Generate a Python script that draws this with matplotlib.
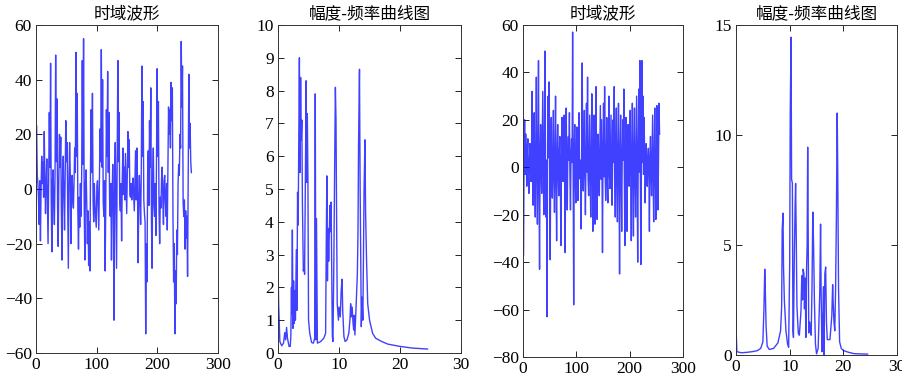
import numpy as np
import matplotlib
matplotlib.use("Agg")
import matplotlib.pyplot as plt

plt.rcParams['font.family'] = ['Liberation Serif', 'DejaVu Serif']
plt.rcParams['axes.unicode_minus'] = True

# titles
title_wave = "时域波形"
title_spec = "幅度-频率曲线图"

# first signal, time domain
wave1 = [23, 5, 2, -4, -13, 3, -19, 0, 12, 2, 10, -3, 21, 4, -9, 2, 11, -5, -20, 6,
         28, 8, 46, -4, -23, 3, 7, -6, -13, 5, 49, 10, 33, -6, -21, 4, 20, 8, 19, -8,
         -26, 5, 12, -3, -15, 6, 25, 10, 17, -5, -29, 4, 17, 6, -20, -2, 5, -4, -7, 3,
         15, 6, 50, 12, 35, -8, -22, -3, -14, 2, -10, 5, 47, 9, 55, -6, -26, 2, 7, -5,
         -20, -8, -28, -12, -30, 10, 29, 6, 35, -4, -12, 2, -6, -10, -14, 1, 3, -6, -15, 5,
         22, 10, 51, 8, 40, -5, -10, 3, -30, -6, 29, 12, 43, 6, 28, -3, -10, 2, -26, -4,
         9, -6, -48, 4, 17, -8, -29, 6, 47, 10, 28, -4, -8, 2, -19, 3, 15, -2, 8, -4,
         13, 2, -9, 5, 21, 8, 18, -2, -3, 2, -4, 1, 4, -2, -8, 3, 14, -4, 15, 2,
         -27, -6, 5, -3, -13, 6, 45, 12, 32, -4, -9, -12, -53, -20, -34, 5, 14, -6, 25, 8,
         37, -10, -29, 4, 15, -6, -10, 2, -17, 10, 44, 12, 32, -8, -20, -3, -7, 4, 8, -4,
         -13, 3, 5, -5, -10, 2, -15, 8, 30, 20, 29, 15, 39, 25, 37, -10, -34, -20, -53, -30,
         -42, -15, -24, 2, 9, 5, 20, 15, 54, 30, 45, -5, -10, -4, -22, -8, -18, -10, -32, 5,
         42, 15, 24, 10, 6]

# first signal, amplitude spectrum vertices
freq1 = [0.0, 0.1, 0.3, 0.6, 0.9, 1.1, 1.25, 1.4, 1.55, 1.8, 2.0, 2.1, 2.2, 2.25, 2.35,
         2.45, 2.55, 2.65, 2.75, 2.85, 3.0, 3.1, 3.2, 3.3, 3.4, 3.5, 3.6, 3.7, 3.8, 3.9,
         4.0, 4.15, 4.3, 4.35, 4.5, 4.6, 4.7, 4.8, 4.9, 5.0, 5.2, 5.5, 5.8, 6.0, 6.1,
         6.2, 6.3, 6.45, 7.0, 7.5, 7.8, 7.9, 8.0, 8.1, 8.2, 8.3, 8.5, 8.6, 8.7, 8.8, 8.9,
         9.0, 9.15, 9.3, 9.4, 9.5, 9.6, 9.7, 9.9, 10.0, 10.2, 10.35, 10.5, 10.6, 10.8,
         11.0, 11.3, 11.6, 11.8, 11.9, 12.0, 12.15, 12.3, 12.4, 12.5, 12.6, 12.8, 13.0,
         13.1, 13.2, 13.35, 13.45, 13.55, 13.65, 13.75, 13.9, 14.0, 14.1, 14.25, 14.35,
         14.5, 14.7, 15.0, 15.5, 16.0, 17.0, 18.0, 20.0, 22.0, 24.5]
amp1 = [2.6, 1.5, 0.35, 0.22, 0.3, 0.62, 0.4, 0.78, 0.45, 0.2, 0.2, 0.5, 2.0, 1.2, 3.75,
        0.75, 2.2, 0.9, 1.9, 1.0, 3.15, 1.3, 4.9, 3.9, 6.45, 9.0, 5.5, 8.4, 6.5, 7.1,
        4.5, 2.5, 2.7, 2.4, 5.7, 8.3, 5.2, 7.3, 5.3, 1.0, 0.6, 0.32, 0.3, 0.45, 7.9,
        0.4, 4.1, 0.3, 0.35, 0.45, 0.6, 3.2, 5.4, 2.2, 3.8, 2.8, 4.5, 3.7, 4.6, 2.5, 0.5,
        0.35, 2.8, 6.1, 8.1, 7.1, 4.1, 1.5, 1.0, 1.4, 1.1, 1.9, 2.25, 1.3, 0.5,
        0.35, 0.4, 0.6, 1.05, 1.5, 1.1, 1.4, 0.9, 0.7, 1.15, 0.55, 1.45, 2.4,
        3.6, 6.4, 8.65, 5.2, 3.0, 0.8, 1.7, 1.0, 2.9, 5.0, 6.5, 4.3,
        2.9, 1.5, 1.0, 0.6, 0.45, 0.35, 0.27, 0.2, 0.15, 0.12]

# second signal, time domain
wave2 = [-37, 5, 20, -3, 14, 2, -8, 6, 12, -4, -11, 3, 10, -2, -6, 8, 32, -5, -16, 4,
         23, -6, -21, 7, 38, -3, -24, 5, 45, -8, -43, 6, 18, -2, -11, 9, 32, -4, -20, 8,
         49, -6, -21, 3, -63, 10, 30, 4, 36, -5, -39, 6, 21, -3, -13, 7, 24, -5, -19, 4,
         30, -6, -31, 5, 18, -2, -12, 6, 13, -4, -33, 3, 21, 7, -6, 5, 22, -3, -36, 4,
         25, -5, -18, 6, 13, 3, 23, -4, -18, 5, 12, 2, 57, -6, -58, 4, 18, -3, -15, 6,
         17, -5, -14, 4, 23, -2, -5, 3, -26, 8, 44, -4, -10, 5, 24, -3, -20, 6, 27, -2,
         38, -5, -12, 4, 22, -6, -21, 5, 31, -3, -27, 4, 22, -6, -24, 5, 34, -4, -22, 3,
         14, -2, -12, 6, 26, -5, 20, 3, -36, 7, 27, -4, 34, -3, -14, 5, 21, -6, -15, 4,
         30, -2, -9, 6, 22, -5, -16, 4, 20, 2, 34, -4, -21, 6, 25, -5, -23, 7, 27, -3,
         -45, 6, 22, -4, -27, 5, 20, 3, 33, -6, -33, 5, 21, -3, -27, 4, 18, -2, -8, 6,
         24, -4, -31, 5, 27, -3, -29, 6, 25, -5, -21, 4, 30, -6, -40, 5, 33, -2, 45, -6,
         -41, 4, 45, 2, 30, -3, 21, 5, -15, -2, 10, -4, -8, 3, 8, -2, -27, 5, 13, -3,
         -12, 4, 22, -6, -23, 5, 25, -4, -22, 3, 26, -5, -18, 2, 27, 14]

# second signal, amplitude spectrum vertices
freq2 = [0.0, 0.05, 0.15, 1.0, 2.0, 3.0, 4.0, 4.6, 5.0, 5.2, 5.35, 5.45, 5.6, 5.8, 6.2,
         7.0, 7.8, 8.3, 8.5, 8.6, 8.75, 8.85, 9.0, 9.3, 9.6, 9.8, 10.0, 10.1, 10.25,
         10.35, 10.5, 10.6, 10.7, 10.85, 11.0, 11.1, 11.2, 11.35, 11.6, 11.8, 12.1,
         12.25, 12.4, 12.5, 12.65, 12.75, 12.9, 13.0, 13.15, 13.25, 13.35, 13.45, 13.55,
         13.7, 13.85, 14.0, 14.15, 14.3, 14.45, 14.6, 14.8, 15.0, 15.3, 15.6, 15.75,
         15.85, 16.0, 16.15, 16.3, 16.4, 16.55, 16.7, 16.85, 17.0, 17.5, 17.85, 18.0,
         18.1, 18.25, 18.4, 18.55, 18.7, 18.85, 18.95, 19.1, 19.3, 19.6, 20.0, 21.0,
         22.0, 23.0, 24.5]
amp2 = [1.8, 0.9, 0.15, 0.1, 0.12, 0.15, 0.2, 0.3, 0.6, 2.1, 3.9, 3.0, 1.3, 0.4, 0.25,
        0.3, 0.55, 1.1, 2.2, 5.7, 6.45, 4.0, 2.5, 1.1, 0.5, 0.35, 4.2, 11.0, 14.45,
        8.0, 7.8, 1.1, 0.8, 4.3, 6.7, 7.8, 5.8, 2.2, 1.0, 0.9, 2.0,
        3.6, 2.5, 3.9, 3.7, 2.1, 3.5, 0.8, 4.0, 5.0, 9.45, 5.3, 1.0,
        1.5, 1.2, 0.9, 3.0, 6.5, 5.0, 2.5, 0.5, 0.05, 0.3, 2.8, 5.95,
        3.0, 0.15, 1.5, 3.1, 0.0, 3.7, 4.0, 1.5, 0.7, 0.7, 1.8, 3.2,
        2.4, 1.5, 1.1, 3.0, 6.3, 11.0, 8.4, 3.0, 0.6, 0.3, 0.2, 0.12,
        0.06, 0.05, 0.04]

fig = plt.figure(figsize=(9.03, 3.77), dpi=100)

boxes = [
    [0.0399, 0.0637, 0.2016, 0.870],
    [0.3079, 0.0637, 0.2027, 0.870],
    [0.5792, 0.0531, 0.1772, 0.8806],
    [0.8151, 0.0584, 0.1783, 0.875],
]

def style(ax, title):
    ax.set_title(title, family=['Noto Sans CJK SC', 'DejaVu Sans'], fontsize=12, pad=5)
    ax.tick_params(direction='in', top=True, right=True, length=4, width=0.6,
                   labelsize=12.5, pad=3)
    for s in ax.spines.values():
        s.set_linewidth(0.7)
        s.set_color('#333333')

line_kw = dict(color='blue', lw=1.0, alpha=0.75)

ax1 = fig.add_axes(boxes[0])
ax1.plot(np.linspace(1, 256, len(wave1)), wave1, **line_kw)
ax1.set_xlim(0, 300)
ax1.set_ylim(-60, 60)
ax1.set_xticks([0, 100, 200, 300])
ax1.set_yticks(range(-60, 61, 20))
style(ax1, title_wave)

ax2 = fig.add_axes(boxes[1])
ax2.plot(freq1, amp1, **line_kw)
ax2.set_xlim(0, 30)
ax2.set_ylim(0, 10)
ax2.set_xticks([0, 10, 20, 30])
ax2.set_yticks(range(0, 11))
style(ax2, title_spec)

ax3 = fig.add_axes(boxes[2])
ax3.plot(np.linspace(1, 256, len(wave2)), wave2, **line_kw)
ax3.set_xlim(0, 300)
ax3.set_ylim(-80, 60)
ax3.set_xticks([0, 100, 200, 300])
ax3.set_yticks(range(-80, 61, 20))
style(ax3, title_wave)

ax4 = fig.add_axes(boxes[3])
ax4.plot(freq2, amp2, **line_kw)
ax4.set_xlim(0, 30)
ax4.set_ylim(0, 15)
ax4.set_xticks([0, 10, 20, 30])
ax4.set_yticks([0, 5, 10, 15])
style(ax4, title_spec)

fig.savefig("out.png", dpi=100)
